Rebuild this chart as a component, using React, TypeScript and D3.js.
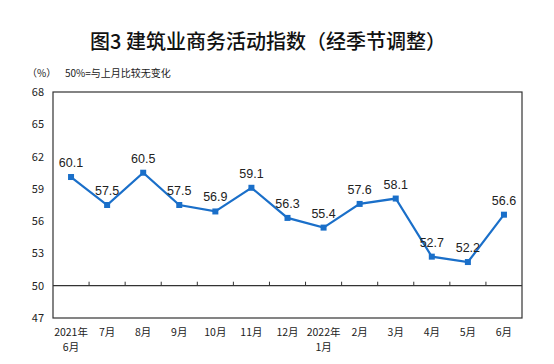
import React, { useRef, useEffect } from "react";
import * as d3 from "d3";

const months = ["2021年\n6月", "7月", "8月", "9月", "10月", "11月", "12月", "2022年\n1月", "2月", "3月", "4月", "5月", "6月"];
const values = [60.1, 57.5, 60.5, 57.5, 56.9, 59.1, 56.3, 55.4, 57.6, 58.1, 52.7, 52.2, 56.6];
const yTicks = [47, 50, 53, 56, 59, 62, 65, 68];

const App = () => {
  const svgRef = useRef<SVGSVGElement>(null);

  useEffect(() => {
    const svg = d3.select(svgRef.current);
    svg.selectAll("*").remove();
    const font = "SimSun, 'Noto Sans CJK SC', sans-serif";

    const left = 53, right = 522, top = 92, bottom = 318;

    const x = d3.scaleBand().domain(months).range([left, right]);
    const y = d3.scaleLinear().domain([47, 68]).range([bottom, top]);

    svg.append("rect").attr("width", 554).attr("height", 364).attr("fill", "#fff");

    svg.append("text")
      .attr("x", 268).attr("y", 49)
      .attr("text-anchor", "middle")
      .attr("font-family", "'Noto Sans CJK SC', sans-serif")
      .attr("font-weight", 500)
      .attr("font-size", 20)
      .attr("fill", "#111")
      .text("图3  建筑业商务活动指数（经季节调整）");

    svg.append("text")
      .attr("x", 27).attr("y", 77)
      .attr("font-family", font).attr("font-size", 10).attr("fill", "#222")
      .text("（%）");
    svg.append("text")
      .attr("x", 65).attr("y", 77)
      .attr("font-family", font).attr("font-size", 10).attr("fill", "#222")
      .text("50%=与上月比较无变化");

    // frame
    svg.append("rect")
      .attr("x", left).attr("y", top)
      .attr("width", right - left).attr("height", bottom - top)
      .attr("fill", "none").attr("stroke", "#333").attr("stroke-width", 1.2);

    // y labels
    svg.append("g").selectAll("text").data(yTicks).join("text")
      .attr("x", 44).attr("y", (d) => y(d) + 4)
      .attr("text-anchor", "end")
      .attr("font-family", font).attr("font-size", 11).attr("fill", "#222")
      .text((d) => d);

    // 50 baseline with ticks
    svg.append("line")
      .attr("x1", left).attr("x2", right)
      .attr("y1", y(50)).attr("y2", y(50))
      .attr("stroke", "#333").attr("stroke-width", 1.2);
    svg.append("g").selectAll("line").data(months.slice(1)).join("line")
      .attr("x1", (d) => x(d)!).attr("x2", (d) => x(d)!)
      .attr("y1", y(50)).attr("y2", y(50) - 4)
      .attr("stroke", "#333").attr("stroke-width", 1);

    // x labels
    const xl = svg.append("g").selectAll("text").data(months).join("text")
      .attr("x", (d) => x(d)! + x.bandwidth() / 2)
      .attr("y", 336)
      .attr("text-anchor", "middle")
      .attr("font-family", font).attr("font-size", 10.5).attr("fill", "#222");
    xl.each(function (d) {
      const parts = d.split("\n");
      const t = d3.select(this);
      parts.forEach((p, i) => {
        t.append("tspan")
          .attr("x", x(d)! + x.bandwidth() / 2)
          .attr("dy", i === 0 ? 0 : 15)
          .text(p);
      });
    });

    const cx = (i: number) => x(months[i])! + x.bandwidth() / 2;
    const color = "#1a6fc9";

    svg.append("path")
      .datum(values)
      .attr("fill", "none")
      .attr("stroke", color)
      .attr("stroke-width", 2.2)
      .attr("d", d3.line<number>().x((d, i) => cx(i)).y((d) => y(d)));

    svg.append("g").selectAll("rect").data(values).join("rect")
      .attr("x", (d, i) => cx(i) - 3).attr("y", (d) => y(d) - 3)
      .attr("width", 6).attr("height", 6)
      .attr("fill", color);

    svg.append("g").selectAll("text").data(values).join("text")
      .attr("x", (d, i) => cx(i))
      .attr("y", (d) => y(d) - 10)
      .attr("text-anchor", "middle")
      .attr("font-family", "Arial, 'Liberation Sans', sans-serif")
      .attr("font-size", 12.5).attr("fill", "#222")
      .text((d) => d.toFixed(1));
  }, []);

  return (
    <svg ref={svgRef} width={554} height={364} style={{ position: "absolute", left: 0, top: 0 }} />
  );
};

export default App;
